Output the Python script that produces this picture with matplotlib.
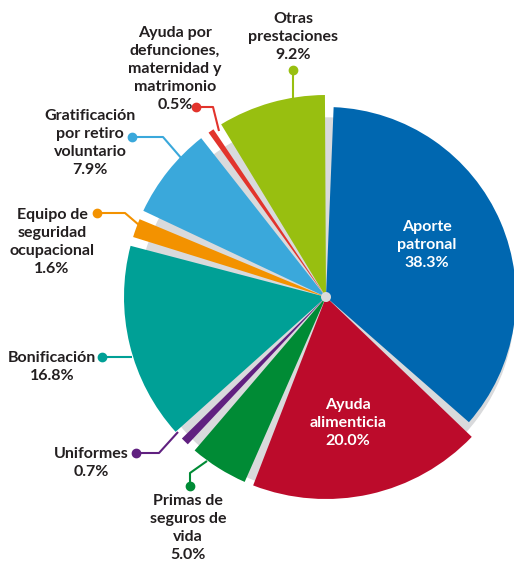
import numpy as np
import matplotlib.pyplot as plt
from matplotlib.patches import Wedge, Circle

W, H = 514, 563

# slices, clockwise from the top
names = ["Aporte\npatronal", "Ayuda\nalimenticia", "Primas de\nseguros de\nvida", "Uniformes",
         "Bonificación", "Equipo de\nseguridad\nocupacional", "Gratificación\npor retiro\nvoluntario",
         "Ayuda por\ndefunciones,\nmaternidad y\nmatrimonio", "Otras\nprestaciones"]
shares = [38.3, 20.0, 5.0, 0.7, 16.8, 1.6, 7.9, 0.5, 9.2]
colors = ["#0067b0", "#bc0b2b", "#008b35", "#602080", "#00a096",
          "#f39200", "#3aa8db", "#e2342c", "#98bf10"]
inside = [True, True, False, False, False, False, False, False, False]

# layout in image pixels (y down)
CX, CY = 326, 297
R_MAIN, R_FIRST = 202, 190
R_HUB = 5
SHADOW_DY, R_SHADOW = 9, 188
GAP = 2.6          # degrees between slices
START = 89.0
TXT = "#231f20"

# label block centres and leader-line elbows (image px)
label_pos = [(427, 245), (348, 423), (188, 528), (91, 463), (52, 367),
             (52, 242), (90, 143), (175, 69), (293, 37)]
leaders = [None, None,
           [(190, 486), (190, 473), (207, 461)],
           [(136, 453), (159, 453), (178, 432)],
           [(102, 357), (132, 357)],
           [(97, 213), (125, 213), (139, 225)],
           [(132, 137), (163, 137), (182, 159)],
           [(196, 107), (213, 107), (219, 131)],
           [(293, 70), (293, 98)]]

plt.rcParams['font.family'] = ['Lato', 'DejaVu Sans']


def img(x, y):
    return x, H - y


fig = plt.figure(figsize=(W / 100, H / 100), dpi=100)
ax = fig.add_axes([0, 0, 1, 1])
ax.set_xlim(0, W)
ax.set_ylim(0, H)
ax.set_aspect("equal")
ax.axis("off")

# grey shadow disk
ax.add_patch(Circle(img(CX, CY + SHADOW_DY), R_SHADOW, color="#d9dadc", zorder=1))

usable = 360 - GAP * len(shares)
t = START - GAP / 2
for i, (s, c) in enumerate(zip(shares, colors)):
    span = s * usable / 100
    r = R_FIRST if i == 0 else R_MAIN
    ax.add_patch(Wedge(img(CX, CY), r, t - span, t, width=r - R_HUB,
                       facecolor=c, edgecolor="none", zorder=2))
    t -= span + GAP

for i, name in enumerate(names):
    lx, ly = img(*label_pos[i])
    txt = f"{name}\n{shares[i]:.1f}%"
    ax.text(lx, ly, txt, ha="center", va="center", fontsize=11.5, fontweight="bold",
            color="white" if inside[i] else TXT, linespacing=1.35, zorder=4)
    if leaders[i]:
        pts = [img(*p) for p in leaders[i]]
        xs, ys = zip(*pts)
        ax.plot(xs, ys, color=colors[i], lw=1.5, solid_capstyle="butt", zorder=3)
        ax.plot(xs[0], ys[0], "o", color=colors[i], ms=6, zorder=3)

fig.savefig("out.png", dpi=100)
